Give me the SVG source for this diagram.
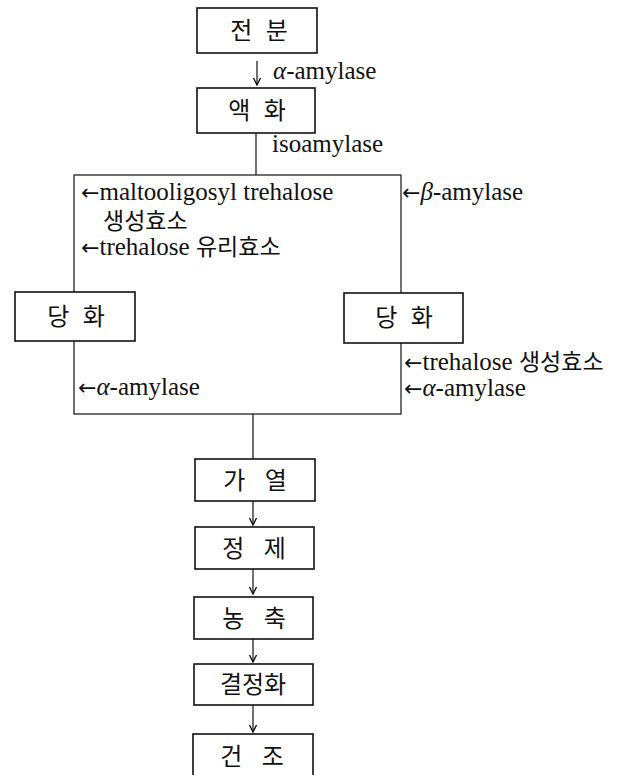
<svg xmlns="http://www.w3.org/2000/svg" width="630" height="775" viewBox="0 0 630 775">
<defs>
<marker id="ah" markerWidth="10" markerHeight="10" refX="9" refY="5" orient="auto" markerUnits="userSpaceOnUse" viewBox="0 0 10 10">
<path d="M2,1.5 L9,5 L2,8.5" fill="none" stroke="#111" stroke-width="1.4"/>
</marker>
<style>
.box{fill:#fff;stroke:#111;stroke-width:1.6}
.ln{fill:none;stroke:#111;stroke-width:1.2}
.arr{fill:none;stroke:#111;stroke-width:1.2;marker-end:url(#ah)}
.lbl{font-family:"Noto Sans CJK KR","Noto Sans",sans-serif;font-size:24px;fill:#111;text-anchor:middle}
.ann{font-family:"Liberation Serif",serif;font-size:25px;fill:#111}
.ko{font-family:"Noto Sans CJK KR",sans-serif;font-size:23px}
.ar{font-family:"DejaVu Sans",sans-serif;font-size:22px}
.it{font-style:italic}
</style>
</defs>
<rect width="630" height="775" fill="#fff"/>
<g id="connectors">
<line class="arr" x1="257" y1="61" x2="257" y2="85"/>
<line class="ln" x1="256" y1="133" x2="256" y2="175"/>
<rect class="ln" x="74" y="175" width="327" height="239"/>
<line class="ln" x1="253" y1="414" x2="253" y2="459"/>
<line class="arr" x1="253" y1="501" x2="253" y2="525"/>
<line class="arr" x1="253" y1="569" x2="253" y2="594"/>
<line class="arr" x1="253" y1="639" x2="253" y2="662"/>
<line class="arr" x1="253" y1="705" x2="253" y2="732"/>
</g>
<g id="n-jeonbun"><rect class="box" x="197" y="8" width="120" height="45"/><text class="lbl" x="259" y="39" word-spacing="8">전 분</text></g>
<g id="n-aekhwa"><rect class="box" x="197" y="88" width="118" height="45"/><text class="lbl" x="257" y="119" word-spacing="8">액 화</text></g>
<g id="n-danghwa-l"><rect class="box" x="15" y="292" width="120" height="49"/><text class="lbl" x="76" y="325" word-spacing="8">당 화</text></g>
<g id="n-danghwa-r"><rect class="box" x="344" y="293" width="119" height="50"/><text class="lbl" x="404" y="326" word-spacing="8">당 화</text></g>
<g id="n-gayeol"><rect class="box" x="195" y="459" width="120" height="42"/><text class="lbl" x="255" y="489" word-spacing="14">가 열</text></g>
<g id="n-jeongje"><rect class="box" x="195" y="527" width="119" height="42"/><text class="lbl" x="254" y="557" word-spacing="14">정 제</text></g>
<g id="n-nongchuk"><rect class="box" x="194" y="597" width="119" height="42"/><text class="lbl" x="254" y="627" word-spacing="14">농 축</text></g>
<g id="n-gyeoljeonghwa"><rect class="box" x="194" y="664" width="119" height="41"/><text class="lbl" x="253" y="693">결정화</text></g>
<g id="n-geonjo"><rect class="box" x="193" y="734" width="120" height="50"/><text class="lbl" x="252" y="765" word-spacing="14">건 조</text></g>
<g id="labels">
<text class="ann" x="273" y="79"><tspan class="it">α</tspan>-amylase</text>
<text class="ann" x="272" y="152">isoamylase</text>
<text class="ann"><tspan x="81" y="200"><tspan class="ar">←</tspan>maltooligosyl trehalose</tspan><tspan class="ko" x="103" y="229">생성효소</tspan></text>
<text class="ann" x="81" y="255"><tspan class="ar">←</tspan>trehalose <tspan class="ko">유리효소</tspan></text>
<text class="ann" x="402" y="200"><tspan class="ar">←</tspan><tspan class="it">β</tspan>-amylase</text>
<text class="ann" x="78" y="395"><tspan class="ar">←</tspan><tspan class="it">α</tspan>-amylase</text>
<text class="ann" x="404" y="370"><tspan class="ar">←</tspan>trehalose <tspan class="ko">생성효소</tspan></text>
<text class="ann" x="404" y="396"><tspan class="ar">←</tspan><tspan class="it">α</tspan>-amylase</text>
</g>
</svg>
